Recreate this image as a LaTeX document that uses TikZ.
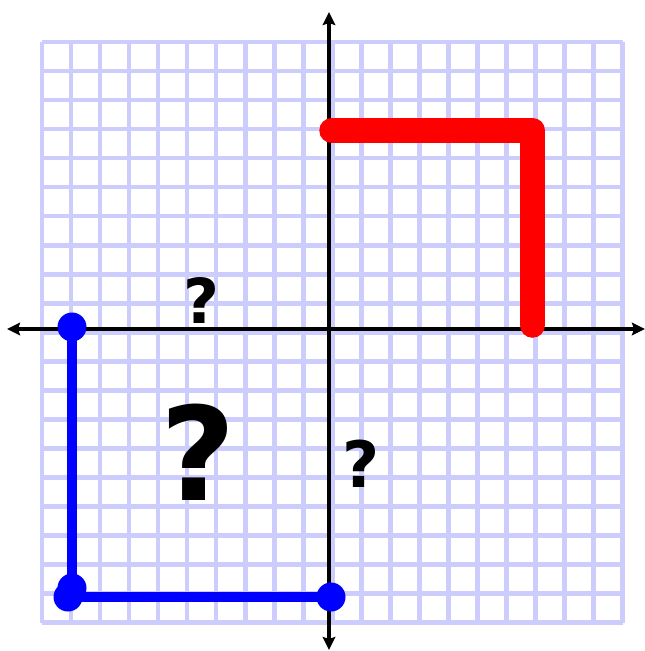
\documentclass[tikz,border=0pt]{standalone}
\usepackage{fontspec}
\setmainfont{DejaVu Sans}
\usetikzlibrary{arrows.meta}
\definecolor{gridc}{RGB}{204,204,253}
\begin{document}
\begin{tikzpicture}[x=1pt,y=-1pt,
  gridline/.style={draw=gridc,line width=4.6pt},
  axisline/.style={draw=black,line width=4.8pt,{Stealth[length=13pt,width=12.5pt,inset=2pt]}-{Stealth[length=13pt,width=12.5pt,inset=2pt]}},
  redpath/.style={draw=red,line width=25.5pt,line cap=round,line join=round},
  bluepath/.style={draw=blue,line width=10pt},
  bdot/.style={circle,fill=blue,inner sep=0pt,minimum size=29pt},
  qm/.style={inner sep=0pt,font=\bfseries}]
\useasboundingbox (0,0) rectangle (645,651);
% grid
\foreach \k in {0,...,20}{
  \draw[gridline] ({42+\k*29.03},42) -- ({42+\k*29.03},622.6);
  \draw[gridline] (42,{42+\k*29.03}) -- (622.6,{42+\k*29.03});
}
% axes
\coordinate (xl) at (7,329);
\coordinate (xr) at (645,329);
\coordinate (yt) at (329,12);
\coordinate (yb) at (329,650);
\draw[axisline] (xl) -- (xr);
\draw[axisline] (yb) -- (yt);
% red path
\coordinate (r1) at (332,130.5);
\coordinate (r2) at (532.5,130.5);
\coordinate (r3) at (532.5,325);
\draw[redpath] (r1) -- (r2) -- (r3);
% blue path
\node[bdot] (b1) at (72,327) {};
\node[bdot] (b2) at (72,588) {};
\node[bdot] (b3) at (68,597) {};
\node[bdot] (b4) at (331,597) {};
\draw[bluepath] (b1.center) -- (b2.center);
\draw[bluepath] (b3.center) -- (b4.center);
% question marks
\node[qm,font=\fontsize{62}{62}\selectfont\bfseries] (q1) at (201,300.5) {?};
\node[qm,font=\fontsize{130}{130}\selectfont\bfseries] (q2) at (198.5,452.5) {?};
\node[qm,font=\fontsize{64}{64}\selectfont\bfseries] (q3) at (361,463.5) {?};
\end{tikzpicture}
\end{document}
